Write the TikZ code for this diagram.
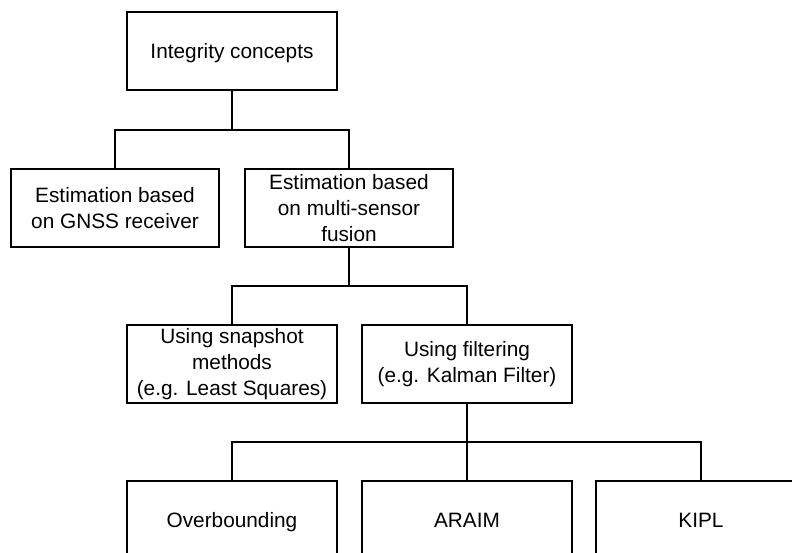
\documentclass[tikz,border=0pt]{standalone}
\usepackage{fontspec}
\setmainfont{Liberation Sans}
\begin{document}
\begin{tikzpicture}[x=1pt,y=-1pt,
  box/.style={draw=black, line width=1.1pt, fill=white, minimum width=210pt,
    minimum height=78pt, inner sep=2pt, align=center,
    font=\fontsize{20.8}{26}\selectfont},
  oneline/.style={text height=18.8pt, text depth=4.4pt},
  link/.style={draw=black, line width=1.1pt}]
  \useasboundingbox (0,0) rectangle (792,553);
  \clip (0,0) rectangle (792,553);

  % tree levels
  \node[box, oneline] (root) at (232,51) {Integrity concepts};
  \node[box, minimum width=208pt] (gnss) at (115,208) {Estimation based\\on GNSS receiver};
  \node[box, minimum width=208pt] (fusion) at (349,208) {Estimation based\\on multi-sensor\\fusion};
  \node[box] (snap) at (232,364) {Using snapshot\\methods\\(e.g. Least Squares)};
  \node[box] (filt) at (467,364) {Using filtering\\(e.g. Kalman Filter)};
  \node[box, oneline] (over) at (232,520) {Overbounding};
  \node[box, oneline] (araim) at (467,520) {ARAIM};
  \node[box, oneline] (kipl) at (701,520) {KIPL};

  % junction points of the elbow connectors
  \coordinate (j1) at (232,130);
  \coordinate (j2) at (349,286);
  \coordinate (j3) at (467,442);

  \draw[link] (root.south) -- (j1);
  \draw[link] (gnss.north) |- (j1) -| (fusion.north);
  \draw[link] (fusion.south) -- (j2);
  \draw[link] (snap.north) |- (j2) -| (filt.north);
  \draw[link] (filt.south) -- (j3);
  \draw[link] (over.north) |- (j3) -| (kipl.north);
  \draw[link] (j3) -- (araim.north);
\end{tikzpicture}
\end{document}
